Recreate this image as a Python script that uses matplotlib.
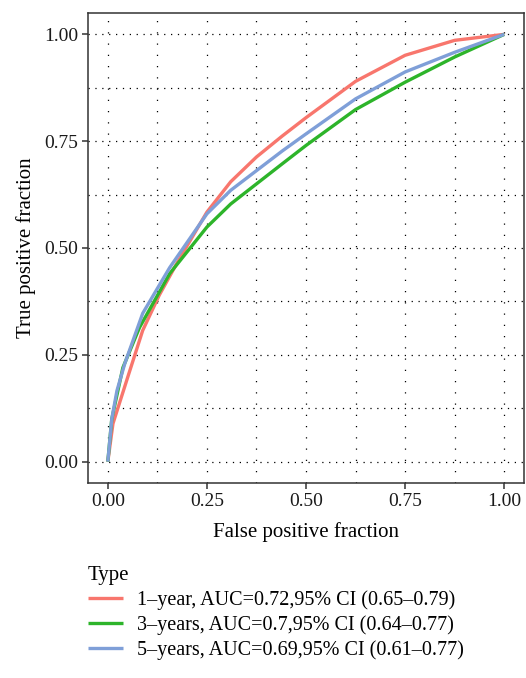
import numpy as np
import matplotlib
matplotlib.use("Agg")
import matplotlib.pyplot as plt
from matplotlib.ticker import MultipleLocator

plt.rcParams['font.family'] = ['Liberation Serif', 'DejaVu Serif']

# ROC curves
fpr_1y = [0, 0.013, 0.05, 0.088, 0.13, 0.174, 0.25, 0.31, 0.375, 0.44, 0.5, 0.625, 0.75, 0.875, 1.0]
tpr_1y = [0, 0.089, 0.197, 0.307, 0.39, 0.464, 0.584, 0.655, 0.713, 0.762, 0.805, 0.89, 0.951, 0.986, 1.0]

fpr_3y = [0, 0.01, 0.038, 0.08, 0.156, 0.25, 0.31, 0.375, 0.44, 0.5, 0.625, 0.75, 0.875, 1.0]
tpr_3y = [0, 0.10, 0.22, 0.314, 0.44, 0.549, 0.603, 0.65, 0.697, 0.74, 0.824, 0.888, 0.947, 1.0]

fpr_5y = [0, 0.01, 0.023, 0.043, 0.088, 0.156, 0.25, 0.31, 0.375, 0.44, 0.5, 0.625, 0.75, 0.875, 1.0]
tpr_5y = [0, 0.10, 0.166, 0.23, 0.347, 0.454, 0.58, 0.635, 0.681, 0.727, 0.767, 0.849, 0.912, 0.958, 1.0]

labels = ["1\u2013year, AUC=0.72,95% CI (0.65\u20130.79)",
          "3\u2013years, AUC=0.7,95% CI (0.64\u20130.77)",
          "5\u2013years, AUC=0.69,95% CI (0.61\u20130.77)"]
colors = ["#F8766D", "#2DB42A", "#7F9FD8"]

fig = plt.figure(figsize=(5.26, 6.78), dpi=100)
ax = fig.add_axes([88 / 526, 1 - 483 / 678, 436 / 526, 470 / 678])

for fx, ty, lab, col in zip([fpr_1y, fpr_3y, fpr_5y], [tpr_1y, tpr_3y, tpr_5y], labels, colors):
    ax.plot(fx, ty, color=col, lw=2.4, label=lab, solid_capstyle='butt')

ax.set_xlim(-0.05, 1.05)
ax.set_ylim(-0.05, 1.05)
ticks = [0, 0.25, 0.5, 0.75, 1.0]
ax.set_xticks(ticks)
ax.set_yticks(ticks)
ax.set_xticklabels(["0.00", "0.25", "0.50", "0.75", "1.00"])
ax.set_yticklabels(["0.00", "0.25", "0.50", "0.75", "1.00"])
ax.xaxis.set_minor_locator(MultipleLocator(0.125))
ax.yaxis.set_minor_locator(MultipleLocator(0.125))

# dotted grid, major and minor
ax.xaxis.grid(True, which='both', color='black', lw=0.9, linestyle=(0, (1, 8)))
ax.yaxis.grid(True, which='both', color='black', lw=0.9, linestyle=(0, (1, 4.5)))
ax.set_axisbelow(True)

ax.tick_params(which='major', length=4, width=1.1, color='#333333', labelsize=14, labelcolor='#1a1a1a', pad=3)
ax.tick_params(which='minor', length=0)
for s in ax.spines.values():
    s.set_color('#333333')
    s.set_linewidth(1.1)

ax.set_xlabel("False positive fraction", fontsize=15, labelpad=9)
ax.set_ylabel("True positive fraction", fontsize=15, labelpad=6)

handles, labs = ax.get_legend_handles_labels()
leg = fig.legend(handles, labs, title="Type", loc='upper left', bbox_to_anchor=(80 / 526, 1 - 558 / 678),
                 frameon=False, fontsize=14.5, title_fontsize=15, handlelength=1.75, handletextpad=0.7,
                 labelspacing=0.26, borderaxespad=0)
leg._legend_box.align = "left"

fig.savefig("out.png", dpi=100)
